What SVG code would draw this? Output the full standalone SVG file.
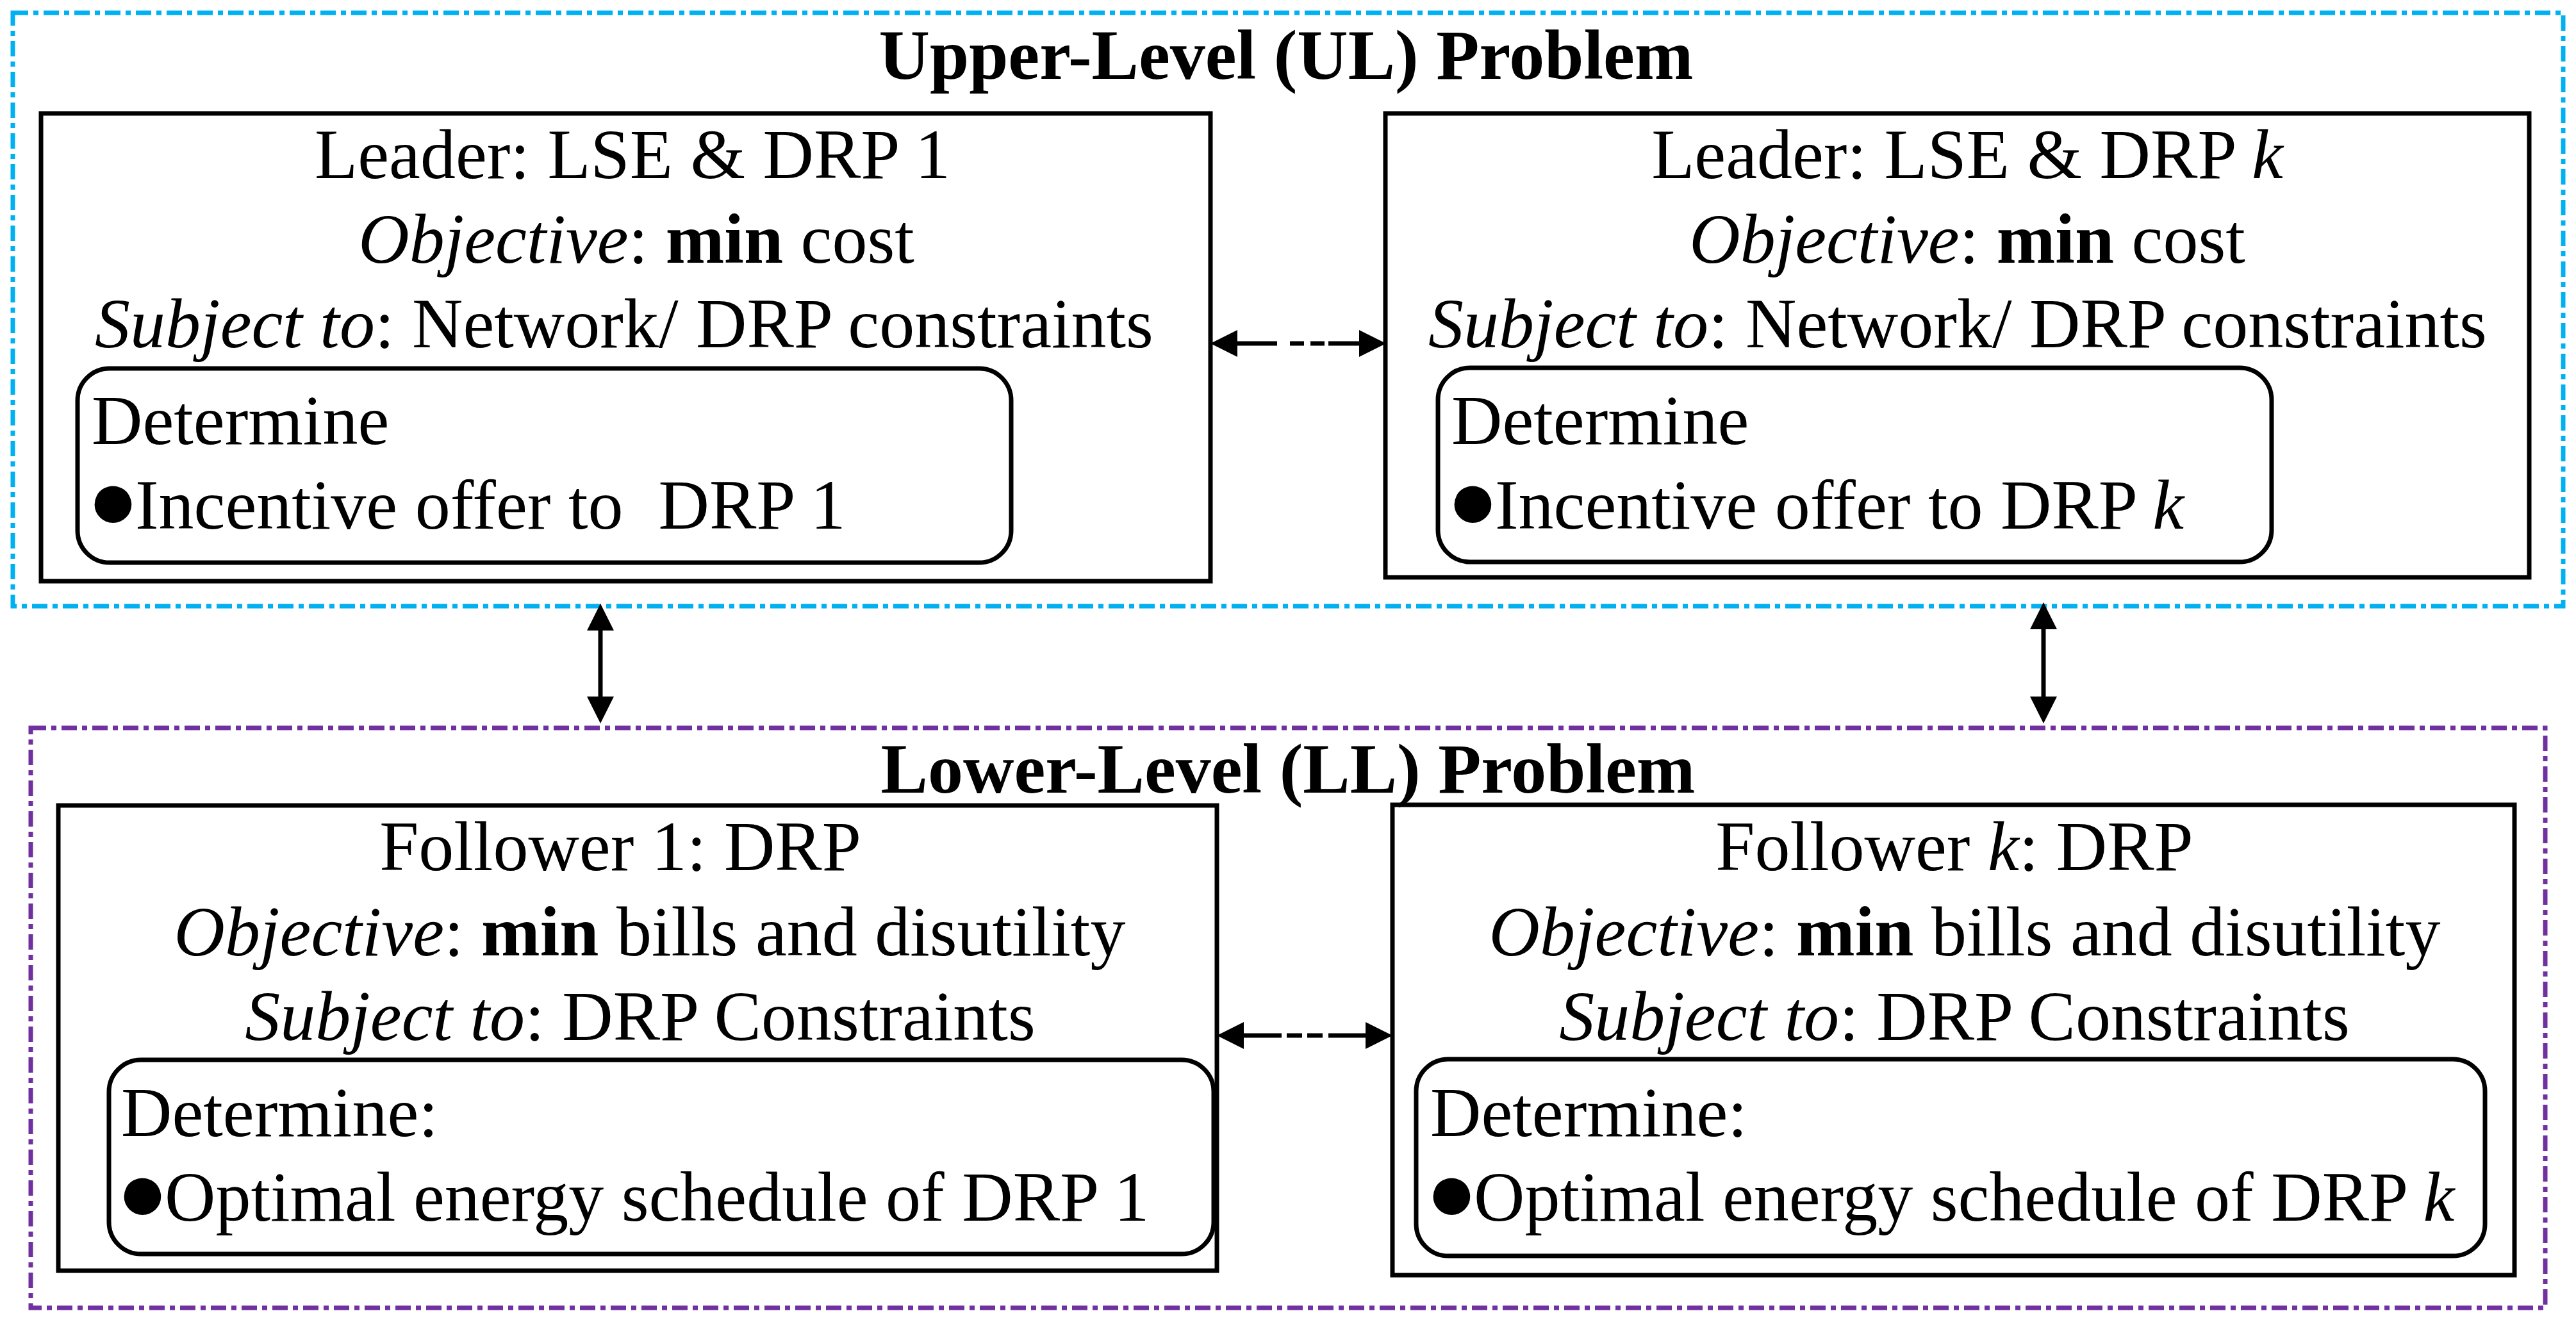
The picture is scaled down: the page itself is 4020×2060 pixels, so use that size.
<svg xmlns="http://www.w3.org/2000/svg" width="4020" height="2060" viewBox="0 0 4020 2060">
<style>
text{font-family:"Liberation Serif","Times New Roman",serif;font-size:110px;fill:#000}
.c{text-anchor:middle}
.t{font-weight:bold}
.i{font-style:italic}
.b{font-weight:bold}
.bul{font-size:134px}
.box{fill:none;stroke:#000;stroke-width:7}
.frame{fill:none;stroke-width:7;stroke-dasharray:24 8 8 8}
.conn{fill:none;stroke:#000;stroke-width:7}
</style>
<defs>
<marker id="ah" viewBox="0 0 42 42" refX="0" refY="21" markerWidth="42" markerHeight="42" markerUnits="userSpaceOnUse" orient="auto-start-reverse">
<path d="M0,0 L42,21 L0,42 z" fill="#000"/>
</marker>
</defs>
<rect width="4020" height="2060" fill="#fff"/>
<g id="upper-level">
<rect class="frame" x="20" y="20" width="3980" height="926" stroke="#00B0F0"/>
<text class="c t" x="2007" y="123">Upper-Level (UL) Problem</text>
</g>
<g id="lower-level">
<rect class="frame" x="48" y="1136" width="3924" height="905" stroke="#7030A0"/>
<text class="c t" x="2010" y="1237">Lower-Level (LL) Problem</text>
</g>
<g id="leader-1">
<rect class="box" x="64" y="177" width="1825" height="730"/>
<text class="c" x="987" y="278">Leader: LSE &amp; DRP 1</text>
<text class="c" x="993" y="410"><tspan class="i">Objective</tspan>: <tspan class="b">min</tspan> cost</text>
<text class="c" x="974" y="542"><tspan class="i">Subject to</tspan>: Network/ DRP constraints</text>
<rect class="box" x="121" y="575" width="1457" height="303" rx="50" ry="50"/>
<text x="143" y="693">Determine</text>
<text x="136" y="825" xml:space="preserve"><tspan class="bul">●</tspan><tspan dx="-6">Incentive offer to  DRP 1</tspan></text>
</g>
<g id="leader-k">
<rect class="box" x="2162" y="177" width="1785" height="724"/>
<text class="c" x="3070" y="278">Leader: LSE &amp; DRP <tspan class="i">k</tspan></text>
<text class="c" x="3070" y="410"><tspan class="i">Objective</tspan>: <tspan class="b">min</tspan> cost</text>
<text class="c" x="3055" y="542"><tspan class="i">Subject to</tspan>: Network/ DRP constraints</text>
<rect class="box" x="2244" y="574" width="1301" height="303" rx="50" ry="50"/>
<text x="2265" y="693">Determine</text>
<text x="2258" y="825"><tspan class="bul">●</tspan><tspan dx="-6">Incentive offer to DRP </tspan><tspan class="i">k</tspan></text>
</g>
<g id="follower-1">
<rect class="box" x="91" y="1257" width="1808" height="726"/>
<text class="c" x="968" y="1358">Follower 1: DRP</text>
<text class="c" x="1014" y="1491"><tspan class="i">Objective</tspan>: <tspan class="b">min</tspan> bills and disutility</text>
<text class="c" x="999" y="1623"><tspan class="i">Subject to</tspan>: DRP Constraints</text>
<rect class="box" x="170" y="1654" width="1724" height="303" rx="50" ry="50"/>
<text x="189" y="1773">Determine:</text>
<text x="182" y="1905"><tspan class="bul">●</tspan><tspan dx="-6">Optimal energy schedule of DRP 1</tspan></text>
</g>
<g id="follower-k">
<rect class="box" x="2173" y="1256" width="1751" height="734"/>
<text class="c" x="3050" y="1358">Follower <tspan class="i">k</tspan>: DRP</text>
<text class="c" x="3066" y="1491"><tspan class="i">Objective</tspan>: <tspan class="b">min</tspan> bills and disutility</text>
<text class="c" x="3050" y="1623"><tspan class="i">Subject to</tspan>: DRP Constraints</text>
<rect class="box" x="2210" y="1653" width="1668" height="307" rx="50" ry="50"/>
<text x="2232" y="1773">Determine:</text>
<text x="2225" y="1905"><tspan class="bul">●</tspan><tspan dx="-6">Optimal energy schedule of DRP </tspan><tspan class="i">k</tspan></text>
</g>
<g id="connectors">
<path class="conn" d="M1931,536 L2121,536" stroke-dasharray="62 20 22 10 22 6 70" marker-start="url(#ah)" marker-end="url(#ah)"/>
<path class="conn" d="M1941,1616 L2131,1616" stroke-dasharray="59 8 24 8 24 9 70" marker-start="url(#ah)" marker-end="url(#ah)"/>
<path class="conn" d="M937,984 L937,1087" marker-start="url(#ah)" marker-end="url(#ah)"/>
<path class="conn" d="M3189,982 L3189,1087" marker-start="url(#ah)" marker-end="url(#ah)"/>
</g>
</svg>
